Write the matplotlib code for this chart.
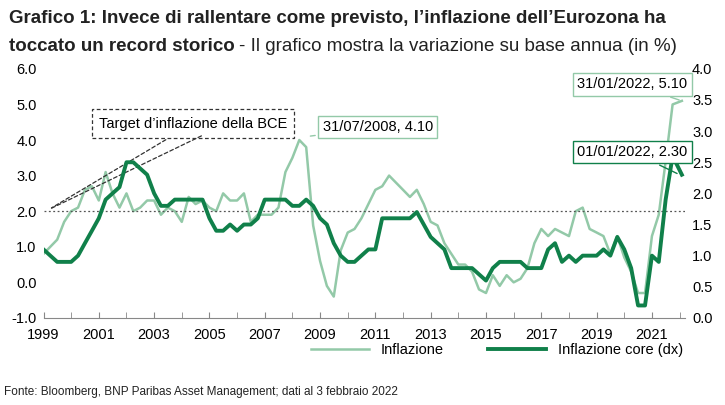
import matplotlib
matplotlib.use("Agg")
import matplotlib.pyplot as plt
import numpy as np
import pandas as pd

plt.rcParams['font.family'] = ['Liberation Sans', 'DejaVu Sans']

headline = [0.8,1.0,1.2,1.7, 2.0,2.1,2.6,2.7, 2.3,3.1,2.5,2.1, 2.5,2.0,2.1,2.3,
            2.3,1.9,2.1,2.0, 1.7,2.4,2.2,2.3, 2.1,2.0,2.5,2.3, 2.3,2.5,1.7,1.9,
            1.9,1.9,2.1,3.1, 3.5,4.0,3.8,1.6, 0.6,-0.1,-0.4,0.9, 1.4,1.5,1.8,2.2,
            2.6,2.7,3.0,2.8, 2.6,2.4,2.6,2.2, 1.7,1.6,1.1,0.8, 0.5,0.5,0.3,-0.2,
            -0.3,0.2,-0.1,0.2, 0.0,0.1,0.4,1.1, 1.5,1.3,1.5,1.4, 1.3,2.0,2.1,1.5,
            1.4,1.3,0.8,1.3, 0.7,0.3,-0.3,-0.3, 1.3,1.9,3.4,5.0, 5.1]
core = [1.1,1.0,0.9,0.9, 0.9,1.0,1.2,1.4, 1.6,1.9,2.0,2.1, 2.5,2.5,2.4,2.3,
        2.0,1.8,1.8,1.9, 1.9,1.9,1.9,1.9, 1.6,1.4,1.4,1.5, 1.4,1.5,1.5,1.6,
        1.9,1.9,1.9,1.9, 1.8,1.8,1.9,1.8, 1.6,1.5,1.2,1.0, 0.9,0.9,1.0,1.1,
        1.1,1.6,1.6,1.6, 1.6,1.6,1.7,1.5, 1.3,1.2,1.1,0.8, 0.8,0.8,0.8,0.7,
        0.6,0.8,0.9,0.9, 0.9,0.9,0.8,0.8, 0.8,1.1,1.2,0.9, 1.0,0.9,1.0,1.0,
        1.0,1.1,1.0,1.3, 1.1,0.8,0.2,0.2, 1.0,0.9,1.9,2.6, 2.3]
dates = list(pd.date_range("1999-01-01", periods=92, freq="QS")) + [pd.Timestamp("2022-01-31")]
x = np.array([d.year + (d.dayofyear-1)/365.25 for d in dates])

light = "#93c9a8"
dark = "#10804a"

fig = plt.figure(figsize=(7.25, 4.05), dpi=100)
ax = fig.add_axes([0.06, 0.215, 0.885, 0.615])
ax2 = ax.twinx()
ax.plot(x, headline, color=light, lw=1.8, label="Inflazione")
ax2.plot(x, core, color=dark, lw=2.8, label="Inflazione core (dx)")
ax.axhline(2.0, color="#555555", lw=0.9, ls=(0, (1.5, 2)))

ax.set_ylim(-1, 6); ax2.set_ylim(0, 4)
ax.set_yticks(np.arange(-1, 6.1, 1)); ax2.set_yticks(np.arange(0, 4.01, 0.5))
ax.set_yticklabels([f"{v:.1f}" for v in np.arange(-1, 6.1, 1)])
ax2.set_yticklabels([f"{v:.1f}" for v in np.arange(0, 4.01, 0.5)])
ax.set_xlim(1999, 2022.2)
ax.set_xticks(range(1999, 2022, 2))
ax.set_xticks(range(1999, 2023, 1), minor=True)
for a in (ax, ax2):
    a.tick_params(labelsize=10.5, length=0, pad=5)
    for s in a.spines.values():
        s.set_visible(False)
ax.spines['bottom'].set_visible(True)
ax.spines['bottom'].set_color("#888888")
ax.tick_params(axis='x', which='both', direction='in', length=4, color="#888888", pad=7)

fs = 10.5
bbox = dict(boxstyle="square,pad=0.3", fc="white", ec=light, lw=1)
ax.annotate("31/07/2008, 4.10", xy=(2008.55, 4.1), xytext=(2009.1, 4.25), fontsize=fs, bbox=bbox,
            arrowprops=dict(arrowstyle="-", color=light, lw=1))
ax.annotate("31/01/2022, 5.10", xy=(2022.08, 5.1), xytext=(2018.3, 5.45), fontsize=fs, bbox=bbox,
            arrowprops=dict(arrowstyle="-", color=light, lw=1))
ax2.annotate("01/01/2022, 2.30", xy=(2022.0, 2.3), xytext=(2018.3, 2.6), fontsize=fs,
             bbox=dict(boxstyle="square,pad=0.3", fc="white", ec=dark, lw=1),
             arrowprops=dict(arrowstyle="-", color=dark, lw=1))
ax.annotate("Target d\u2019inflazione della BCE", xy=(1999.2, 2.05), xytext=(2001.0, 4.35), fontsize=fs,
            bbox=dict(boxstyle="square,pad=0.5", fc="white", ec="#333333", lw=0.9, ls=(0, (3, 2))),
            arrowprops=dict(arrowstyle="-", color="#333333", lw=0.9, ls=(0, (3, 2))))
ax.annotate("", xy=(1999.2, 2.05), xytext=(2004.8, 4.15),
            arrowprops=dict(arrowstyle="-", color="#333333", lw=0.9, ls=(0, (3, 2))))

h1, l1 = ax.get_legend_handles_labels(); h2, l2 = ax2.get_legend_handles_labels()
fig.legend(h1+h2, l1+l2, loc="lower right", bbox_to_anchor=(0.96, 0.085), ncol=2, frameon=False,
           fontsize=fs, handlelength=4, columnspacing=3)

tfs = 13.5
fig.text(0.012, 0.955, "Grafico 1: Invece di rallentare come previsto, l\u2019inflazione dell\u2019Eurozona ha",
         fontsize=tfs, fontweight="bold", va="center", color="#222222")
t1 = fig.text(0.012, 0.885, "toccato un record storico", fontsize=tfs, fontweight="bold", va="center", color="#222222")
fig.canvas.draw()
bb = t1.get_window_extent().transformed(fig.transFigure.inverted())
fig.text(bb.x1 + 0.006, 0.885, "- Il grafico mostra la variazione su base annua (in %)", fontsize=tfs, va="center", color="#222222")
fig.text(0.005, 0.025, "Fonte: Bloomberg, BNP Paribas Asset Management; dati al 3 febbraio 2022", fontsize=8.5, color="#222222")
fig.savefig("out.png", dpi=100)
